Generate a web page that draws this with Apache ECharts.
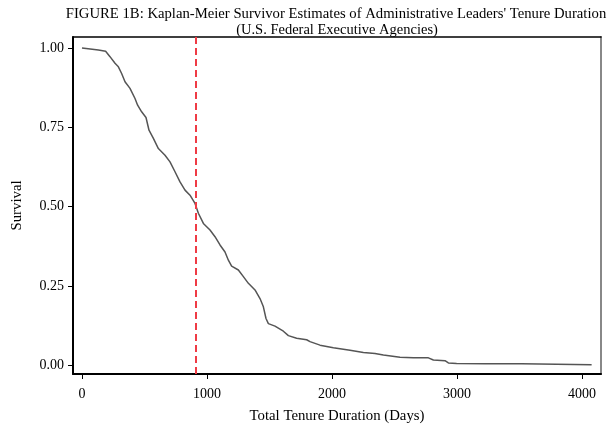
<!DOCTYPE html>
<html>
<head>
<meta charset="utf-8">
<script src="https://cdn.jsdelivr.net/npm/echarts@6/dist/echarts.min.js"></script>
<style>
html,body{margin:0;padding:0;background:#fff;}
#chart{width:615px;height:425px;}
</style>
</head>
<body>
<div id="chart"></div>
<script>
// Kaplan-Meier survivor estimate
const days = [0,10,131,189,224,264,291,317,344,384,424,445,477,512,536,571,611,664,704,744,784,824,864,904,931,971,1024,1064,1104,1144,1171,1197,1251,1291,1331,1384,1424,1451,1472,1491,1544,1611,1651,1717,1797,1824,1904,2011,2144,2251,2344,2411,2544,2651,2771,2811,2904,2931,2997,3224,3517,3531,4077];
const survival = [1.0,1.0,0.994,0.990,0.973,0.952,0.941,0.920,0.894,0.873,0.841,0.820,0.799,0.781,0.741,0.715,0.683,0.662,0.641,0.610,0.578,0.552,0.536,0.510,0.479,0.447,0.426,0.405,0.379,0.357,0.331,0.312,0.300,0.279,0.258,0.237,0.210,0.184,0.147,0.131,0.123,0.107,0.093,0.085,0.080,0.074,0.063,0.055,0.047,0.040,0.037,0.032,0.025,0.023,0.023,0.016,0.014,0.007,0.005,0.004,0.004,0.001,0.001];
const medianDay = 912;
const xTicks = [0,1000,2000,3000,4000];
const yTicks = [0,0.25,0.5,0.75,1.0];
const titleLine1 = "FIGURE 1B: Kaplan-Meier Survivor Estimates of Administrative Leaders' Tenure Duration";
const titleLine2 = "(U.S. Federal Executive Agencies)";

const FONT = "Liberation Serif";
const xMin = -72, xMax = 4152, yMin = -0.028, yMax = 1.035;

const chart = echarts.init(document.getElementById('chart'), null, {renderer:'canvas'});
chart.setOption({
  animation:false,
  backgroundColor:'#ffffff',
  textStyle:{fontFamily:FONT},
  graphic:[
    {type:'text',x:336,y:14,style:{text:titleLine1,fontFamily:FONT,fontSize:14.7,fill:'#000',textAlign:'center',textVerticalAlign:'middle'}},
    {type:'text',x:337,y:30,style:{text:titleLine2,fontFamily:FONT,fontSize:14.5,fill:'#000',textAlign:'center',textVerticalAlign:'middle'}}
  ],
  grid:{left:73,right:14,top:37,bottom:51,show:false,containLabel:false,outerBoundsMode:'none'},
  xAxis:[{
    type:'value',min:xMin,max:xMax,position:'bottom',
    name:'Total Tenure Duration (Days)',nameLocation:'middle',nameGap:35,
    nameTextStyle:{fontFamily:FONT,fontSize:14.8,color:'#000'},
    axisLine:{show:true,onZero:false,lineStyle:{color:'#000',width:2}},
    axisTick:{show:true,customValues:xTicks,length:5,lineStyle:{color:'#000',width:1}},
    axisLabel:{customValues:xTicks,margin:13,fontFamily:FONT,fontSize:14,color:'#000',
      formatter:v=>String(v)},
    splitLine:{show:false}
  },{
    type:'value',min:xMin,max:xMax,position:'top',
    axisLine:{show:true,onZero:false,lineStyle:{color:'#000',width:1.5}},
    axisTick:{show:false},axisLabel:{show:false},splitLine:{show:false}
  }],
  yAxis:[{
    type:'value',min:yMin,max:yMax,position:'left',
    name:'Survival',nameLocation:'middle',nameGap:48,
    nameTextStyle:{fontFamily:FONT,fontSize:14.8,color:'#000'},
    axisLine:{show:true,onZero:false,lineStyle:{color:'#000',width:2}},
    axisTick:{show:true,customValues:yTicks,length:5,lineStyle:{color:'#000',width:1}},
    axisLabel:{customValues:yTicks,margin:9,fontFamily:FONT,fontSize:14,color:'#000',
      formatter:v=>v.toFixed(2)},
    splitLine:{show:false}
  },{
    type:'value',min:yMin,max:yMax,position:'right',
    axisLine:{show:true,onZero:false,lineStyle:{color:'#888',width:2}},
    axisTick:{show:false},axisLabel:{show:false},splitLine:{show:false}
  }],
  series:[{
    type:'line',
    data:days.map((d,i)=>[d,survival[i]]),
    showSymbol:false,
    lineStyle:{color:'#555555',width:1.5},
    markLine:{
      silent:true,symbol:['none','none'],label:{show:false},
      lineStyle:{color:'#ef3b45',width:2,type:[7,4]},
      data:[{xAxis:medianDay}]
    }
  }]
});
</script>
</body>
</html>
